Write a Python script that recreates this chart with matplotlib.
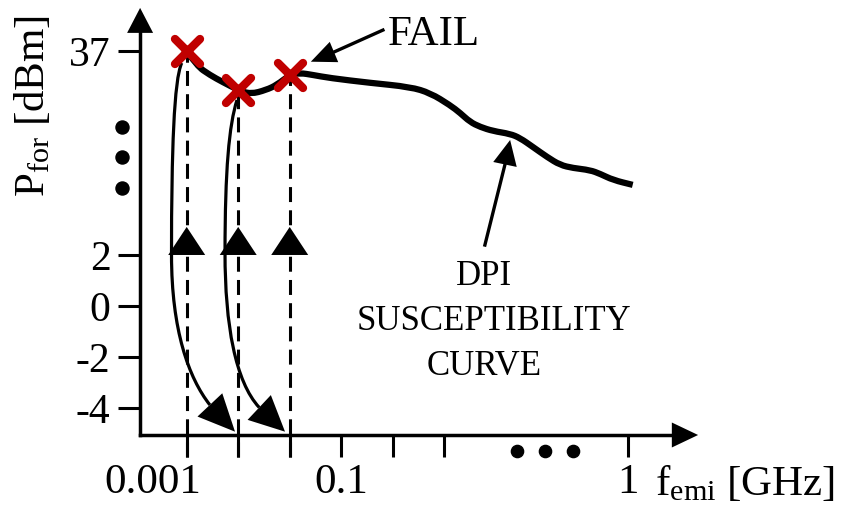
import numpy as np
import matplotlib
matplotlib.use("Agg")
import matplotlib.pyplot as plt
from matplotlib.markers import MarkerStyle
from matplotlib.patches import Polygon, PathPatch
from matplotlib.path import Path
from matplotlib.transforms import ScaledTranslation

plt.rcParams['font.family'] = ['Liberation Serif', 'DejaVu Serif']
plt.rcParams['mathtext.fontset'] = 'custom'
plt.rcParams['mathtext.rm'] = 'Liberation Serif'
plt.rcParams['mathtext.default'] = 'regular'

# Frequency axis: schematic positions, one unit per tick step
freq_tick_pos = [0, 1, 2, 3, 4, 5, 8.575]
freq_tick_labels = ['0.001', '', '', '0.1', '', '', '1']

# Power axis: broken between 2 dBm and 37 dBm
pwr_tick_pos = [-4, -2, 0, 2, 10]
pwr_tick_labels = ['-4', '-2', '0', '2', '37']

# DPI susceptibility curve (frequency position, power position)
curve_pos = [0.00, 0.20, 0.45, 0.70, 1.00, 1.24, 1.54, 1.75, 2.00, 2.20,
             2.45, 2.78, 3.56, 4.34, 4.73, 5.11, 5.31, 5.50, 5.70, 5.95,
             6.28, 6.47, 6.72, 7.00, 7.25, 7.50, 7.83, 8.03, 8.28, 8.66]
curve_lvl = [10.00, 9.41, 9.06, 8.78, 8.47, 8.31, 8.47, 8.67, 9.06, 9.14,
             9.06, 8.94, 8.75, 8.59, 8.35, 7.88, 7.57, 7.22, 7.02, 6.86,
             6.75, 6.59, 6.24, 5.84, 5.53, 5.41, 5.33, 5.18, 4.94, 4.75]

# Failure points found by the sweep
fail_pos = [0, 1, 2]
fail_lvl = [10.0, 8.47, 9.06]

# Power level where each injection sweep starts (2 dBm)
start_lvl = 2
start_head = 3.10

# Return paths after a failure (cubic Bezier control points)
ret1_pos = [-0.097, -0.247, -0.295, -0.295, -0.295, 0.037, 0.450]
ret1_lvl = [9.53, 8.86, 6.12, 2.00, -0.94, -2.82, -3.88]
ret1_tip = (0.938, -4.93)
ret2_pos = [0.977, 0.822, 0.744, 0.744, 0.744, 0.946, 1.408]
ret2_lvl = [8.08, 7.10, 5.33, 2.08, -0.75, -2.97, -3.98]
ret2_tip = (1.909, -4.93)

RED = '#c00000'

fig = plt.figure(figsize=(8.57, 5.05), dpi=100)
xlim = (-0.905, 9.93)
ylim = (-5.06, 11.69)
ax = fig.add_axes([140.1 / 857, 70 / 505, 558 / 857, 427.1 / 505])
ax.set_xlim(*xlim)
ax.set_ylim(*ylim)


def arrow_head(tip, base, width_px, zorder=4):
    """Filled triangular head from base centre to tip, width in pixels."""
    t = ax.transData.transform(tip)
    b = ax.transData.transform(base)
    d = t - b
    n = np.array([-d[1], d[0]]) / np.hypot(*d) * width_px / 2
    pts = ax.transData.inverted().transform(np.array([t, b + n, b - n]))
    ax.add_patch(Polygon(pts, closed=True, facecolor='black',
                         edgecolor='none', clip_on=False, zorder=zorder))


def smooth_line(xs, ys, lw, zorder=3):
    """Draw a smooth stroke through the given points (quadratic Bezier chain)."""
    pts = np.column_stack([xs, ys])
    verts = [pts[0]]
    codes = [Path.MOVETO]
    for i in range(1, len(pts) - 1):
        verts += [pts[i], (pts[i] + pts[i + 1]) / 2]
        codes += [Path.CURVE3, Path.CURVE3]
    verts.append(pts[-1])
    codes.append(Path.LINETO)
    ax.add_patch(PathPatch(Path(verts, codes), fill=False, edgecolor='black',
                           lw=lw, capstyle='butt', joinstyle='round',
                           clip_on=False, zorder=zorder))


def bezier_arrow(xs, ys, tip, lw, head_px):
    """Cubic Bezier stroke with a filled head at the end."""
    verts = np.column_stack([xs, ys])
    codes = [Path.MOVETO] + [Path.CURVE4] * (len(verts) - 1)
    ax.add_patch(PathPatch(Path(verts, codes), fill=False, edgecolor='black',
                           lw=lw, capstyle='butt', clip_on=False, zorder=3))
    arrow_head(tip, (xs[-1], ys[-1]), head_px)


# axes: only left and bottom, ending in arrows
for side in ('top', 'right'):
    ax.spines[side].set_visible(False)
for side in ('left', 'bottom'):
    ax.spines[side].set_linewidth(2.5)
ax.spines['left'].set_bounds(ylim[0], 10.75)
ax.spines['bottom'].set_bounds(xlim[0], 9.45)
arrow_head((xlim[0], 11.69), (xlim[0], 10.71), 26)
arrow_head((9.93, ylim[0]), (9.42, ylim[0]), 25)

ax.set_xticks(freq_tick_pos)
ax.set_xticklabels(freq_tick_labels, fontsize=31)
ax.set_yticks(pwr_tick_pos)
ax.set_yticklabels(pwr_tick_labels, fontsize=30)
ax.tick_params(axis='both', direction='out', length=15.8, width=2.2)
ax.tick_params(axis='x', pad=5)
ax.tick_params(axis='y', pad=5.5)
lab0 = ax.get_xticklabels()[0]
lab0.set_ha('right')
lab0.set_transform(lab0.get_transform() + ScaledTranslation(0.15, 0, fig.dpi_scale_trans))

# continuation dots on both axes
ax.plot([-1.256] * 3, [7.02, 5.84, 4.63], 'o', ms=9.4, color='black', clip_on=False)
ax.plot([6.41, 6.96, 7.50], [-5.69] * 3, 'o', ms=8.8, color='black', clip_on=False)

# dashed sweep lines with start arrows at 2 dBm
for x, y in zip(fail_pos, fail_lvl):
    ax.plot([x, x], [-5.92, y], color='black', lw=2.2, dashes=(4.9, 2.7),
            clip_on=False, zorder=2)
    arrow_head((x, start_head), (x, start_lvl), 37)

# susceptibility curve
smooth_line(curve_pos, curve_lvl, lw=4.5)

# return arrows to the next test frequency
bezier_arrow(ret1_pos, ret1_lvl, ret1_tip, lw=2.3, head_px=34)
bezier_arrow(ret2_pos, ret2_lvl, ret2_tip, lw=2.3, head_px=34)

# failure markers
xm = MarkerStyle('x', capstyle='round')
ax.plot(fail_pos, fail_lvl, linestyle='none', marker=xm, ms=18, mew=6,
        color=RED, zorder=6, clip_on=False)

# FAIL annotation
ax.plot([3.81, 2.86], [10.82, 9.96], color='black', lw=2.4, clip_on=False)
arrow_head((2.41, 9.58), (2.86, 9.96), 22)
ax.text(3.91, 10.24, 'FAIL', fontsize=31, ha='left', va='baseline')

# curve annotation
ax.plot([5.79, 6.18], [2.39, 5.55], color='black', lw=2.4)
arrow_head((6.28, 6.51), (6.18, 5.55), 24)
ax.text(5.77, 0.82, 'DPI', fontsize=25, ha='center', va='baseline')
ax.text(5.97, -0.94, 'SUSCEPTIBILITY', fontsize=25, ha='center', va='baseline')
ax.text(5.77, -2.71, 'CURVE', fontsize=25, ha='center', va='baseline')

# axis titles
fig.text(655 / 857, 10 / 505, r'$\mathregular{f_{emi}}$ [GHz]', fontsize=31,
         ha='left', va='baseline')
fig.text(33 / 857, 1 - 106 / 505, r'$\mathregular{P_{for}}$ [dBm]', fontsize=31,
         rotation=90, ha='center', va='center')

fig.savefig('out.png', dpi=100)
